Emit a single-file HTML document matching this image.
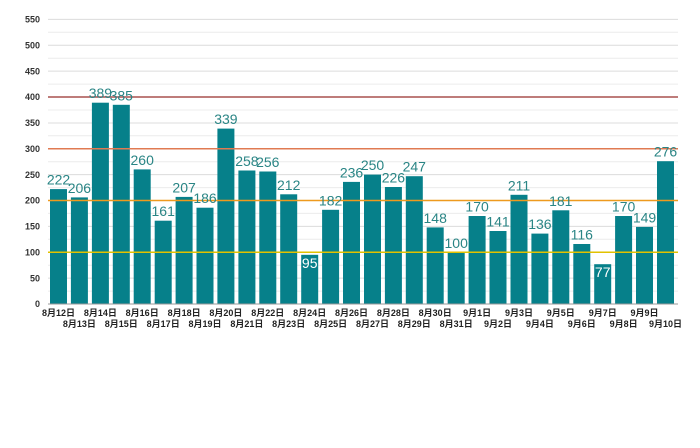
<!DOCTYPE html>
<html><head><meta charset="utf-8"><style>
body{margin:0;background:#fff;}
svg{display:block;font-family:"Liberation Sans","Noto Sans CJK JP",sans-serif;}
.y{font-size:9px;fill:#333;text-anchor:end;font-weight:bold;}
.v{font-size:14px;fill:#2a8585;text-anchor:middle;}
.w{font-size:14px;fill:#fff;text-anchor:middle;}
.x{font-size:9px;fill:#222;text-anchor:middle;font-weight:bold;}
</style></head><body>
<svg width="700" height="448" viewBox="0 0 700 448">
<g stroke="#ececec" stroke-width="1">
<line x1="48" x2="678" y1="32.3" y2="32.3"/><line x1="48" x2="678" y1="58.2" y2="58.2"/><line x1="48" x2="678" y1="84.1" y2="84.1"/><line x1="48" x2="678" y1="110" y2="110"/><line x1="48" x2="678" y1="135.8" y2="135.8"/><line x1="48" x2="678" y1="161.7" y2="161.7"/><line x1="48" x2="678" y1="187.6" y2="187.6"/><line x1="48" x2="678" y1="213.4" y2="213.4"/><line x1="48" x2="678" y1="239.3" y2="239.3"/><line x1="48" x2="678" y1="265.2" y2="265.2"/><line x1="48" x2="678" y1="291.1" y2="291.1"/>
</g>
<g stroke="#dcdcdc" stroke-width="1">
<line x1="48" x2="678" y1="19.4" y2="19.4"/><line x1="48" x2="678" y1="45.3" y2="45.3"/><line x1="48" x2="678" y1="71.1" y2="71.1"/><line x1="48" x2="678" y1="123" y2="123"/><line x1="48" x2="678" y1="148.8" y2="148.8"/><line x1="48" x2="678" y1="174.6" y2="174.6"/><line x1="48" x2="678" y1="226.4" y2="226.4"/><line x1="48" x2="678" y1="278.1" y2="278.1"/>
</g>
<g class="y">
<text x="40" y="22.5">550</text><text x="40" y="48.4">500</text><text x="40" y="74.3">450</text><text x="40" y="100.2">400</text><text x="40" y="126">350</text><text x="40" y="151.9">300</text><text x="40" y="177.8">250</text><text x="40" y="203.6">200</text><text x="40" y="229.5">150</text><text x="40" y="255.4">100</text><text x="40" y="281.3">50</text><text x="40" y="307.1">0</text>
</g>
<g fill="#06808a">
<rect x="50" y="189.1" width="17" height="114.9"/><rect x="70.9" y="197.4" width="17" height="106.6"/><rect x="91.9" y="102.7" width="17" height="201.3"/><rect x="112.8" y="104.8" width="17" height="199.2"/><rect x="133.7" y="169.4" width="17" height="134.6"/><rect x="154.7" y="220.7" width="17" height="83.3"/><rect x="175.6" y="196.9" width="17" height="107.1"/><rect x="196.5" y="207.7" width="17" height="96.3"/><rect x="217.4" y="128.6" width="17" height="175.4"/><rect x="238.4" y="170.5" width="17" height="133.5"/><rect x="259.3" y="171.5" width="17" height="132.5"/><rect x="280.2" y="194.3" width="17" height="109.7"/><rect x="301.2" y="254.8" width="17" height="49.2"/><rect x="322.1" y="209.8" width="17" height="94.2"/><rect x="343" y="181.9" width="17" height="122.1"/><rect x="364" y="174.6" width="17" height="129.4"/><rect x="384.9" y="187" width="17" height="117"/><rect x="405.8" y="176.2" width="17" height="127.8"/><rect x="426.7" y="227.4" width="17" height="76.6"/><rect x="447.7" y="252.3" width="17" height="51.7"/><rect x="468.6" y="216" width="17" height="88"/><rect x="489.5" y="231" width="17" height="73"/><rect x="510.5" y="194.8" width="17" height="109.2"/><rect x="531.4" y="233.6" width="17" height="70.4"/><rect x="552.3" y="210.3" width="17" height="93.7"/><rect x="573.3" y="244" width="17" height="60"/><rect x="594.2" y="264.2" width="17" height="39.8"/><rect x="615.1" y="216" width="17" height="88"/><rect x="636" y="226.9" width="17" height="77.1"/><rect x="657" y="161.2" width="17" height="142.8"/>
</g>
<line x1="48" x2="678" y1="304" y2="304" stroke="#999"/>
<line x1="48" x2="678" y1="97" y2="97" stroke="#a8504f" stroke-width="1.5"/>
<line x1="48" x2="678" y1="148.8" y2="148.8" stroke="#e07a52" stroke-width="1.5"/>
<line x1="48" x2="678" y1="200.5" y2="200.5" stroke="#ee9a1e" stroke-width="1.5"/>
<line x1="48" x2="678" y1="252.3" y2="252.3" stroke="#e2c200" stroke-width="1.5"/>
<g class="v">
<text x="58.5" y="184.6">222</text><text x="79.4" y="192.9">206</text><text x="100.4" y="98.2">389</text><text x="121.3" y="100.3">385</text><text x="142.2" y="164.9">260</text><text x="163.2" y="216.2">161</text><text x="184.1" y="192.4">207</text><text x="205" y="203.2">186</text><text x="225.9" y="124.1">339</text><text x="246.9" y="166">258</text><text x="267.8" y="167">256</text><text x="288.7" y="189.8">212</text><text x="330.6" y="205.3">182</text><text x="351.5" y="177.4">236</text><text x="372.5" y="170.1">250</text><text x="393.4" y="182.5">226</text><text x="414.3" y="171.7">247</text><text x="435.2" y="222.9">148</text><text x="456.2" y="247.8">100</text><text x="477.1" y="211.5">170</text><text x="498" y="226.5">141</text><text x="519" y="190.3">211</text><text x="539.9" y="229.1">136</text><text x="560.8" y="205.8">181</text><text x="581.8" y="239.5">116</text><text x="623.6" y="211.5">170</text><text x="644.5" y="222.4">149</text><text x="665.5" y="156.7">276</text>
</g>
<g class="w"><text x="309.7" y="268">95</text><text x="602.7" y="277">77</text></g>
<g class="x">
<text x="58.5" y="316">8月12日</text><text x="79.4" y="327">8月13日</text><text x="100.4" y="316">8月14日</text><text x="121.3" y="327">8月15日</text><text x="142.2" y="316">8月16日</text><text x="163.2" y="327">8月17日</text><text x="184.1" y="316">8月18日</text><text x="205" y="327">8月19日</text><text x="225.9" y="316">8月20日</text><text x="246.9" y="327">8月21日</text><text x="267.8" y="316">8月22日</text><text x="288.7" y="327">8月23日</text><text x="309.7" y="316">8月24日</text><text x="330.6" y="327">8月25日</text><text x="351.5" y="316">8月26日</text><text x="372.5" y="327">8月27日</text><text x="393.4" y="316">8月28日</text><text x="414.3" y="327">8月29日</text><text x="435.2" y="316">8月30日</text><text x="456.2" y="327">8月31日</text><text x="477.1" y="316">9月1日</text><text x="498" y="327">9月2日</text><text x="519" y="316">9月3日</text><text x="539.9" y="327">9月4日</text><text x="560.8" y="316">9月5日</text><text x="581.8" y="327">9月6日</text><text x="602.7" y="316">9月7日</text><text x="623.6" y="327">9月8日</text><text x="644.5" y="316">9月9日</text><text x="665.5" y="327">9月10日</text>
</g>
</svg>
</body></html>
